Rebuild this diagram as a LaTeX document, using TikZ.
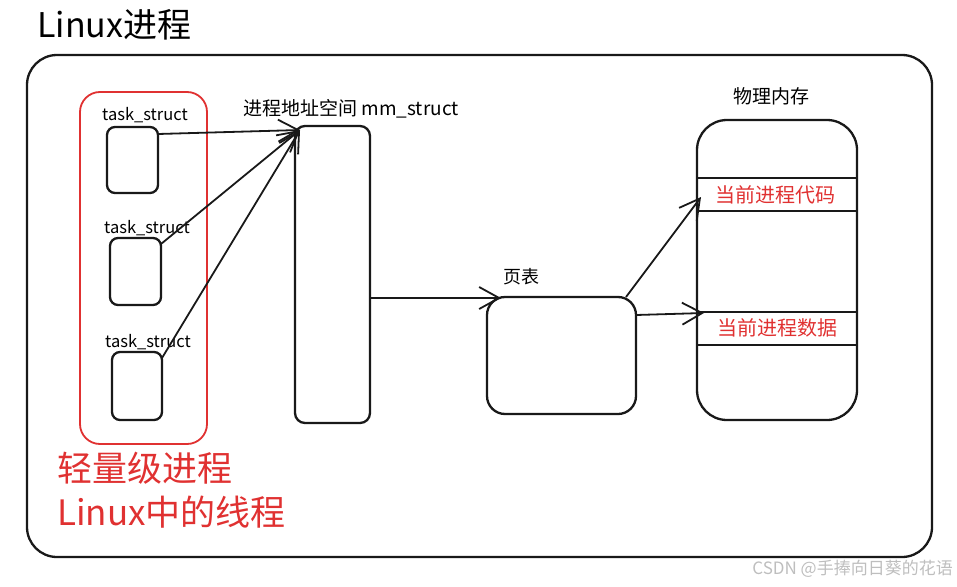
\documentclass[tikz,border=0pt]{standalone}
\usepackage{fontspec}
\setmainfont{Noto Sans CJK SC}
\usetikzlibrary{arrows.meta}
\definecolor{myred}{RGB}{224,49,49}
\definecolor{wm}{RGB}{190,190,190}
\tikzset{
  sk/.style={draw=black!90, line width=2.3pt, inner sep=0pt, outer sep=0pt},
  taskbox/.style={sk, rounded corners=8pt},
  lbl/.style={font=\fontsize{16.5}{16.5}\selectfont, inner sep=0pt},
  arr/.style={draw=black!90, line width=1.8pt, -{Straight Barb[length=20pt,width=22pt,line width=1.8pt]}},
  redtxt/.style={text=myred, font=\fontsize{35}{35}\selectfont, inner sep=0pt, anchor=west},
}
\begin{document}
\begin{tikzpicture}[x=1pt,y=-1pt]
\useasboundingbox (0,0) rectangle (957,586);
% title
\node[font=\fontsize{34}{34}\selectfont, inner sep=0pt, anchor=west] (title) at (37,25) {Linux进程};
% outer frame
\node[sk, rounded corners=30pt, minimum width=905pt, minimum height=502pt] (frame) at (479.5,306) {};
% red group
\node[draw=myred, line width=1.8pt, rounded corners=20pt, minimum width=127pt, minimum height=352pt, inner sep=0pt] (grp) at (143.5,268) {};
% task structs
\node[taskbox, minimum width=51pt, minimum height=66pt] (t1) at (132.5,160) {};
\node[taskbox, minimum width=51pt, minimum height=67pt] (t2) at (135.5,271.5) {};
\node[taskbox, minimum width=50pt, minimum height=68pt] (t3) at (137,386) {};
\node[lbl] (l1) at (145,115) {task\_struct};
\node[lbl] (l2) at (147,228) {task\_struct};
\node[lbl] (l3) at (148,342) {task\_struct};
% mm_struct
\node[sk, rounded corners=10pt, minimum width=75pt, minimum height=297pt] (mm) at (332.5,274.5) {};
\node[font=\fontsize{19}{19}\selectfont, inner sep=0pt] (mml) at (351,109) {进程地址空间 mm\_struct};
% page table
\node[sk, rounded corners=18pt, minimum width=149pt, minimum height=117pt] (pt) at (561.5,355.5) {};
\node[font=\fontsize{18}{18}\selectfont, inner sep=0pt] (ptl) at (521,277) {页表};
% physical memory
\node[sk, rounded corners=30pt, minimum width=160pt, minimum height=300pt] (mem) at (777,270) {};
\node[font=\fontsize{19}{19}\selectfont, inner sep=0pt] (meml) at (771,96) {物理内存};
\draw[line width=2pt, black!90] (mem.west |- 0,178) -- (mem.east |- 0,178);
\draw[line width=2pt, black!90] (mem.west |- 0,211) -- (mem.east |- 0,211);
\draw[line width=2pt, black!90] (mem.west |- 0,312) -- (mem.east |- 0,312);
\draw[line width=2pt, black!90] (mem.west |- 0,345) -- (mem.east |- 0,345);
\node[text=myred, font=\fontsize{20}{20}\selectfont, inner sep=0pt] (code) at (775,195) {当前进程代码};
\node[text=myred, font=\fontsize{20}{20}\selectfont, inner sep=0pt] (data) at (777,328) {当前进程数据};
% arrows
\coordinate (mmin) at (300,130);
\draw[arr] ([yshift=-7pt]t1.north east) -- (mmin);
\draw[arr] ([yshift=-6pt]t2.north east) -- (mmin);
\draw[arr] ([yshift=-6pt]t3.north east) -- (mmin);
\coordinate (ptin) at (501,298);
\draw[arr] (mm.east |- ptin) -- (ptin);
\coordinate (codein) at (701,197);
\coordinate (datain) at (704,313);
\draw[arr] ([xshift=-10pt]pt.north east) -- (codein);
\draw[arr] ([yshift=-18pt]pt.north east) -- (datain);
% red notes
\node[redtxt] (n1) at (57,468) {轻量级进程};
\node[redtxt] (n2) at (57,512) {Linux中的线程};
% watermark
\node[text=wm, font=\fontsize{17}{17}\selectfont, inner sep=0pt, anchor=east] (wmk) at (953,569) {CSDN @手捧向日葵的花语};
\end{tikzpicture}
\end{document}
